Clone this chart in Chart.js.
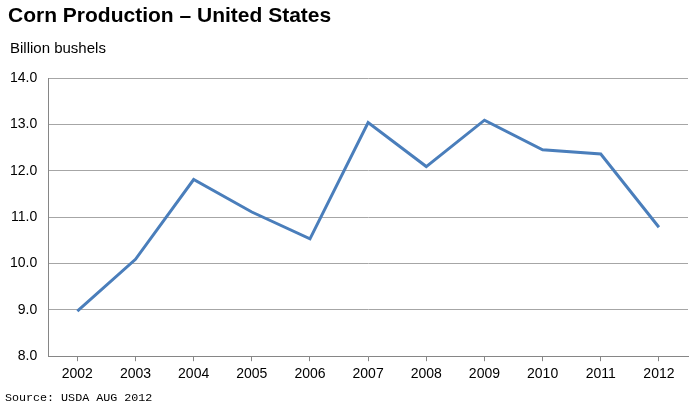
<!DOCTYPE html>
<html>
<head>
<meta charset="utf-8">
<script src="https://cdn.jsdelivr.net/npm/chart.js@4"></script>
<style>
  html, body { margin: 0; padding: 0; background: #fff; }
  #wrap { position: relative; width: 694px; height: 410px; font-family: "Liberation Sans", Arial, sans-serif; color: #000; }
  #title { position: absolute; left: 8px; top: 2px; font-size: 21px; line-height: 25px; font-weight: bold; }
  #unit { position: absolute; left: 10px; top: 39px; font-size: 15px; line-height: 18px; }
  #source {
    position: absolute; left: 5px; top: 391px;
    font-family: "Liberation Mono", "Courier New", monospace;
    font-size: 11.7px;
  }
</style>
</head>
<body>
<div id="wrap">
  <canvas id="cornChart" width="694" height="410"></canvas>
  <div id="title">Corn Production – United States</div>
  <div id="unit">Billion bushels</div>
  <div id="source">Source: USDA AUG 2012</div>
</div>
<script>
var years = ['2002', '2003', '2004', '2005', '2006', '2007', '2008', '2009', '2010', '2011', '2012'];
var production = [8.97, 10.09, 11.81, 11.11, 10.53, 13.04, 12.09, 13.09, 12.45, 12.36, 10.78];

var ctx = document.getElementById('cornChart').getContext('2d');
var chart = new Chart(ctx, {
    type: 'line',
    data: {
        labels: years,
        datasets: [{
            label: 'Corn production',
            data: production,
            borderColor: '#4a7ebb',
            borderWidth: 3,
            pointRadius: 0,
            tension: 0,
            fill: false
        }]
    },
    options: {
        responsive: false,
        animation: false,
        layout: { padding: { left: -1, right: 6, top: 78, bottom: 22 } },
        plugins: {
            legend: { display: false },
            tooltip: { enabled: false }
        },
        scales: {
            x: {
                offset: true,
                grid: { display: true, drawOnChartArea: false, drawTicks: true, tickLength: 5, color: '#868686', offset: false },
                border: { display: true, color: '#868686', width: 1 },
                ticks: { color: '#000', padding: 5, maxRotation: 0, font: { family: 'Liberation Sans, Arial, sans-serif', size: 14 } }
            },
            y: {
                min: 8,
                max: 14,
                ticks: {
                    stepSize: 1,
                    color: '#000',
                    padding: 11,
                    font: { family: 'Liberation Sans, Arial, sans-serif', size: 14 },
                    callback: function (v) { return v.toFixed(1); }
                },
                grid: { color: '#a6a6a6', drawTicks: false },
                border: { display: true, color: '#868686', width: 1 }
            }
        }
    }
});
</script>
</body>
</html>
